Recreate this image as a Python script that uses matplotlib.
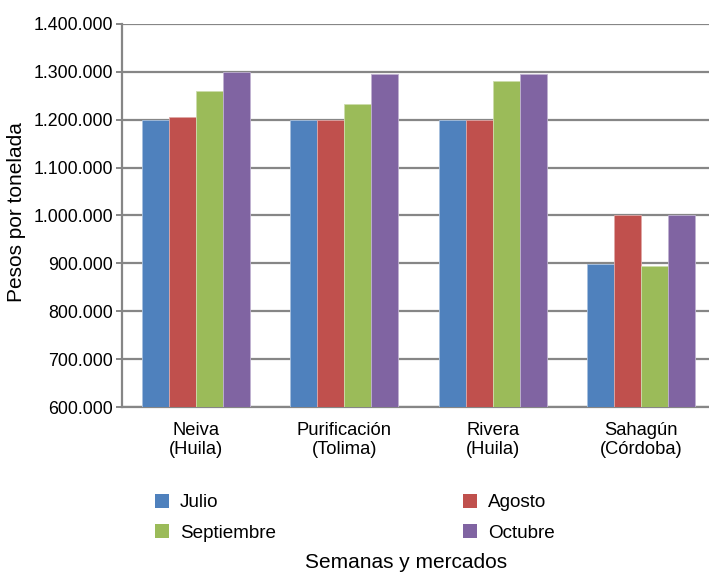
import matplotlib
matplotlib.use("Agg")
import matplotlib.pyplot as plt
from matplotlib.patches import Patch
from matplotlib.ticker import FuncFormatter
import numpy as np

plt.rcParams['font.family'] = ['Liberation Sans', 'DejaVu Sans']

categories = ["Neiva\n(Huila)", "Purificación\n(Tolima)", "Rivera\n(Huila)", "Sahagún\n(Córdoba)"]
series_names = ["Julio", "Agosto", "Septiembre", "Octubre"]
julio = [1200000, 1200000, 1200000, 898000]
agosto = [1205000, 1200000, 1200000, 1000000]
septiembre = [1260000, 1233000, 1280000, 895000]
octubre = [1300000, 1296000, 1296000, 1000000]
colors = ["#4F81BD", "#C0504D", "#9BBB59", "#8064A2"]
edge_colors = ["#A7C0DE", "#DFA8A6", "#CDDDAC", "#BFB1D0"]
yticks = [600000, 700000, 800000, 900000, 1000000, 1100000, 1200000, 1300000, 1400000]

W, H = 709, 574
fig = plt.figure(figsize=(W / 100, H / 100), dpi=100)
ax = fig.add_axes([122 / W, 1 - 407 / H, (709 - 122) / W, (407 - 24) / H])

x = np.arange(len(categories))
bw = 0.182
data = [julio, agosto, septiembre, octubre]
for i, (vals, c, ec) in enumerate(zip(data, colors, edge_colors)):
    ax.bar(x + (i - 1.5) * bw, vals, width=bw, color=c, edgecolor=ec,
           linewidth=0.6, zorder=3)

ax.set_ylim(600000, 1400000)
ax.set_xlim(-0.5, -0.5 + 587 / 148.3)
ax.set_yticks(yticks)
ax.yaxis.set_major_formatter(FuncFormatter(lambda v, p: f"{int(v):,}".replace(",", ".")))
ax.yaxis.grid(True, color="#868686", linewidth=1.6, zorder=0)
ax.set_axisbelow(True)
ax.set_xticks(x)
ax.set_xticklabels(categories, fontsize=13.2, linespacing=1.1)
ax.tick_params(axis='x', length=0, pad=11)
ax.tick_params(axis='y', length=4.5, width=1.4, color="#868686", labelsize=12.8, pad=2)
for s in ["top", "right"]:
    ax.spines[s].set_visible(False)
for s in ["left", "bottom"]:
    ax.spines[s].set_color("#868686")
    ax.spines[s].set_linewidth(1.6)

fig.text(17 / W, 1 - 212 / H, "Pesos por tonelada", rotation=90, fontsize=15,
         ha="center", va="center")
fig.text(406 / W, 1 - 563 / H, "Semanas y mercados", fontsize=15,
         ha="center", va="center")

handles = [Patch(facecolor=c, edgecolor="none") for c in colors]
leg_kw = dict(frameon=False, fontsize=13.6, handlelength=0.74, handleheight=0.74,
              handletextpad=0.58, labelspacing=0.68, borderpad=0, borderaxespad=0,
              loc="upper left")
leg1 = fig.legend([handles[0], handles[2]], [series_names[0], series_names[2]],
                  bbox_to_anchor=(155 / W, 1 - 494 / H), **leg_kw)
leg2 = fig.legend([handles[1], handles[3]], [series_names[1], series_names[3]],
                  bbox_to_anchor=(463 / W, 1 - 494 / H), **leg_kw)

fig.savefig("out.png", dpi=100)
